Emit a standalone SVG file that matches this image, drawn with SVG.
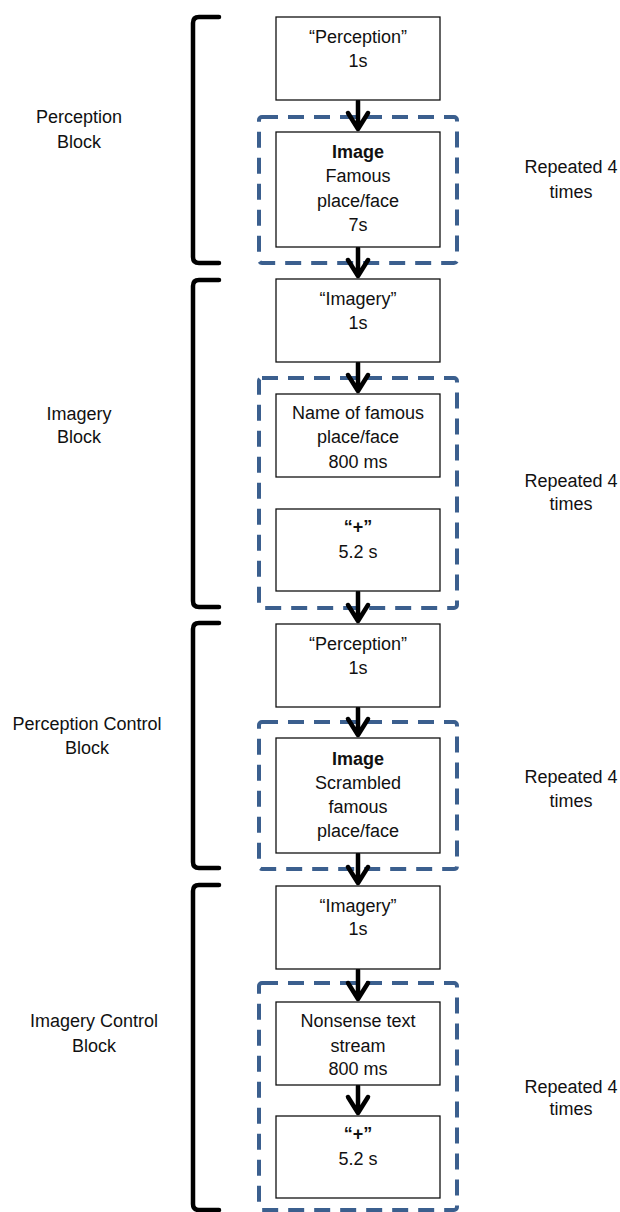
<svg xmlns="http://www.w3.org/2000/svg" width="620" height="1212" viewBox="0 0 620 1212">
<defs>
<style>
text{font-family:"Liberation Sans",Arial,sans-serif;font-size:18px;fill:#111;text-anchor:middle}
.b{font-weight:bold}
.box{fill:#fff;stroke:#111;stroke-width:1.3}
.dash{fill:none;stroke:#3b5f8e;stroke-width:4;stroke-dasharray:16 10}
.br{fill:none;stroke:#000;stroke-width:4.5;stroke-linecap:round}
.ar{fill:none;stroke:#000;stroke-width:4.5;stroke-linecap:round;stroke-linejoin:round}
</style>
</defs>
<rect width="620" height="1212" fill="#fff"/>

<g id="groups">
<rect class="dash" x="259" y="117" width="198" height="146" rx="3"/>
<rect class="dash" x="259" y="378" width="198" height="230" rx="3"/>
<rect class="dash" x="259" y="722" width="198" height="147" rx="3"/>
<rect class="dash" x="259" y="983" width="198" height="227" rx="3"/>
</g>

<g id="brackets">
<path class="br" d="M219,17 H199 Q193,17 193,23 V257 Q193,263 199,263 H219"/>
<path class="br" d="M219,280 H199 Q193,280 193,286 V601 Q193,607 199,607 H219"/>
<path class="br" d="M219,623 H199 Q193,623 193,629 V862 Q193,868 199,868 H219"/>
<path class="br" d="M219,885 H199 Q193,885 193,891 V1204 Q193,1210 199,1210 H219"/>
</g>

<g id="labels">
<text x="79" y="123">Perception</text><text x="79" y="148">Block</text>
<text x="79" y="420">Imagery</text><text x="79" y="443">Block</text>
<text x="87" y="730">Perception Control</text><text x="87" y="754">Block</text>
<text x="94" y="1027">Imagery Control</text><text x="94" y="1052">Block</text>
<text x="571" y="173">Repeated 4</text><text x="571" y="198">times</text>
<text x="571" y="487">Repeated 4</text><text x="571" y="510">times</text>
<text x="571" y="783">Repeated 4</text><text x="571" y="807">times</text>
<text x="571" y="1093">Repeated 4</text><text x="571" y="1115">times</text>
</g>

<g id="connectors">
<path class="ar" d="M358,101 V129 M348,113 L358,129 L368,113"/>
<path class="ar" d="M358,248 V276 M348,260 L358,276 L368,260"/>
<path class="ar" d="M358,363 V391 M348,375 L358,391 L368,375"/>
<path class="ar" d="M358,592 V621 M348,605 L358,621 L368,605"/>
<path class="ar" d="M358,708 V735 M348,719 L358,735 L368,719"/>
<path class="ar" d="M358,854 V883 M348,867 L358,883 L368,867"/>
<path class="ar" d="M358,970 V999 M348,983 L358,999 L368,983"/>
<path class="ar" d="M358,1086 V1113 M348,1097 L358,1113 L368,1097"/>
</g>

<g id="n1"><rect class="box" x="276" y="17" width="164" height="83"/>
<text x="358" y="43">“Perception”</text><text x="358" y="67">1s</text></g>

<g id="n2"><rect class="box" x="276" y="132" width="164" height="115"/>
<text x="358" y="158" class="b">Image</text><text x="358" y="182">Famous</text><text x="358" y="207">place/face</text><text x="358" y="231">7s</text></g>

<g id="n3"><rect class="box" x="276" y="279" width="164" height="83"/>
<text x="358" y="305">“Imagery”</text><text x="358" y="329">1s</text></g>

<g id="n4"><rect class="box" x="276" y="394" width="164" height="83"/>
<text x="358" y="419">Name of famous</text><text x="358" y="443">place/face</text><text x="358" y="468">800 ms</text></g>

<g id="n5"><rect class="box" x="276" y="509" width="164" height="82"/>
<text x="358" y="533" class="b">“+”</text><text x="358" y="558">5.2 s</text></g>

<g id="n6"><rect class="box" x="276" y="624" width="164" height="83"/>
<text x="358" y="650">“Perception”</text><text x="358" y="674">1s</text></g>

<g id="n7"><rect class="box" x="276" y="738" width="164" height="115"/>
<text x="358" y="765" class="b">Image</text><text x="358" y="789">Scrambled</text><text x="358" y="813">famous</text><text x="358" y="837">place/face</text></g>

<g id="n8"><rect class="box" x="276" y="886" width="164" height="83"/>
<text x="358" y="912">“Imagery”</text><text x="358" y="935">1s</text></g>

<g id="n9"><rect class="box" x="276" y="1002" width="164" height="83"/>
<text x="358" y="1027">Nonsense text</text><text x="358" y="1052">stream</text><text x="358" y="1075">800 ms</text></g>

<g id="n10"><rect class="box" x="276" y="1116" width="164" height="82"/>
<text x="358" y="1140" class="b">“+”</text><text x="358" y="1165">5.2 s</text></g>
</svg>
